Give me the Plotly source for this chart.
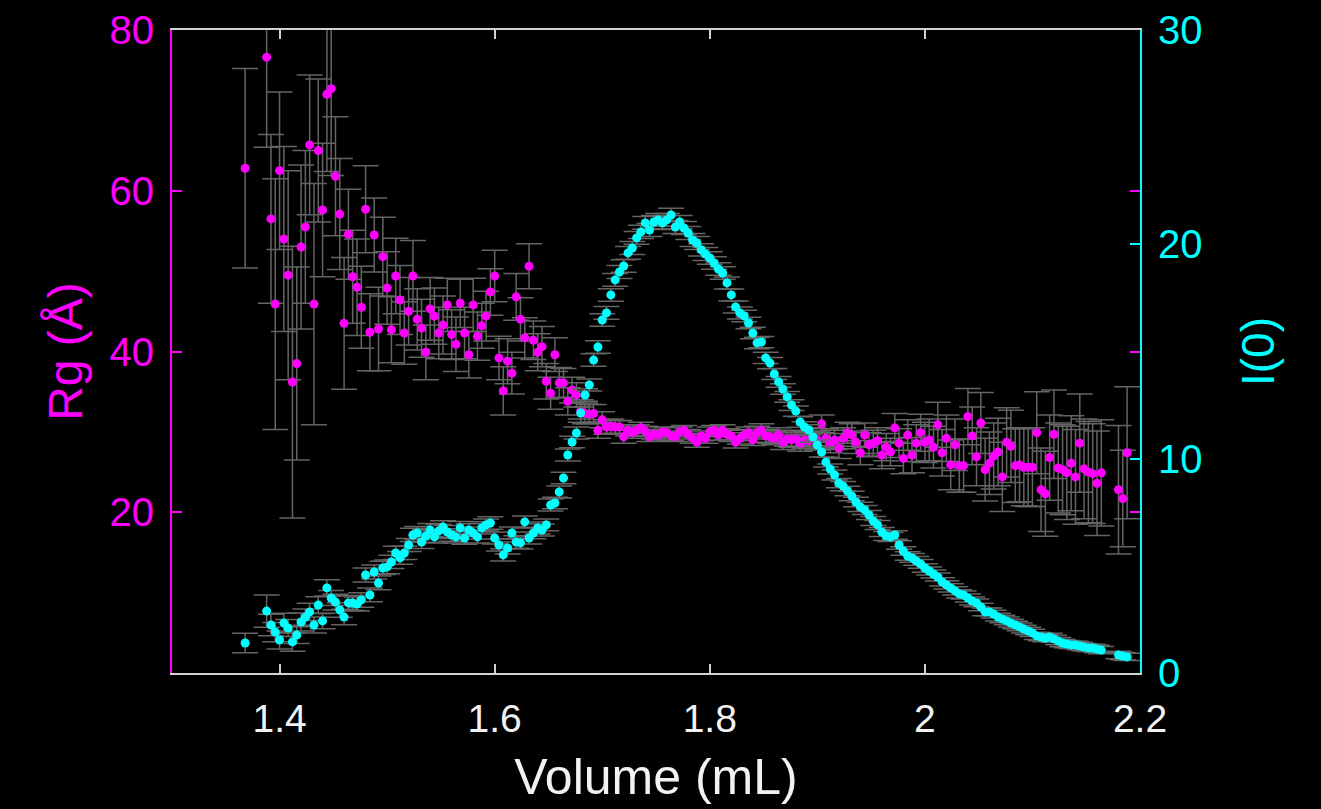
import plotly.graph_objects as go

# Elution volume of each frame (mL)
volume = [
    1.368,
    1.388, 1.392, 1.396, 1.400, 1.404, 1.408, 1.412, 1.416, 1.420, 1.424,
    1.428, 1.432, 1.436, 1.440, 1.444, 1.448, 1.452, 1.456, 1.460, 1.464,
    1.468, 1.472, 1.476, 1.480, 1.484, 1.488, 1.492, 1.496, 1.500, 1.504,
    1.508, 1.512, 1.516, 1.520, 1.524, 1.528, 1.532, 1.536, 1.540, 1.544,
    1.548, 1.552, 1.556, 1.560, 1.564, 1.568, 1.572, 1.576, 1.580, 1.584,
    1.588, 1.592, 1.596, 1.600, 1.604, 1.608, 1.612, 1.616, 1.620, 1.624,
    1.628, 1.632, 1.636, 1.640, 1.644, 1.648, 1.652, 1.656, 1.660, 1.664,
    1.668, 1.672, 1.676, 1.680, 1.684, 1.688, 1.692, 1.696, 1.700, 1.704,
    1.708, 1.712, 1.716, 1.720, 1.724, 1.728, 1.732, 1.736, 1.740, 1.744,
    1.748, 1.752, 1.756, 1.760, 1.764, 1.768, 1.772, 1.776, 1.780, 1.784,
    1.788, 1.792, 1.796, 1.800, 1.804, 1.808, 1.812, 1.816, 1.820, 1.824,
    1.828, 1.832, 1.836, 1.840, 1.844, 1.848, 1.852, 1.856, 1.860, 1.864,
    1.868, 1.872, 1.876, 1.880, 1.884, 1.888, 1.892, 1.896, 1.900, 1.904,
    1.908, 1.912, 1.916, 1.920, 1.924, 1.928, 1.932, 1.936, 1.940, 1.944,
    1.948, 1.952, 1.956, 1.960, 1.964, 1.968, 1.972, 1.976, 1.980, 1.984,
    1.988, 1.992, 1.996, 2.000, 2.004, 2.008, 2.012, 2.016, 2.020, 2.024,
    2.028, 2.032, 2.036, 2.040, 2.044, 2.048, 2.052, 2.056, 2.060, 2.064,
    2.068, 2.072, 2.076, 2.080, 2.084, 2.088, 2.092, 2.096, 2.100, 2.104,
    2.108, 2.112, 2.116, 2.120, 2.124, 2.128, 2.132, 2.136, 2.140, 2.144,
    2.148, 2.152, 2.156, 2.160, 2.164,
    2.180, 2.184, 2.188,
]

# Radius of gyration (Å) and its uncertainty
rg = [
    62.8,
    76.6, 56.5, 45.9, 62.5, 54.0, 49.5, 36.2, 38.5, 53.0, 55.5,
    65.7, 45.9, 65.0, 57.6, 72.0, 72.7, 61.8, 57.1, 43.5, 54.6,
    49.3, 48.0, 45.5, 57.7, 42.4, 54.5, 42.8, 51.8, 47.9, 42.7,
    49.4, 46.4, 42.3, 45.0, 49.4, 44.0, 42.9, 39.9, 45.3, 44.4,
    42.3, 43.3, 45.8, 42.1, 40.9, 46.0, 42.3, 39.6, 45.8, 41.9,
    43.2, 44.4, 47.4, 49.4, 39.2, 35.1, 38.8, 37.3, 46.8, 44.0,
    41.7, 50.6, 41.4, 39.9, 40.6, 36.3, 34.8, 39.6, 36.1, 36.1,
    33.8, 35.2, 34.6, 32.6, 32.3, 32.2, 32.3, 30.2, 31.5, 30.6,
    30.7, 30.6, 30.6, 29.4, 30.2, 29.9, 30.2, 30.5, 30.1, 29.4,
    29.7, 29.6, 30.0, 29.9, 29.5, 29.4, 30.0, 30.2, 29.7, 29.2,
    28.7, 29.5, 29.2, 30.0, 30.2, 29.6, 30.2, 29.7, 29.5, 28.7,
    29.2, 29.6, 29.9, 29.0, 29.9, 30.2, 29.5, 29.4, 29.2, 29.6,
    28.7, 29.1, 29.0, 29.2, 28.6, 29.0, 28.9, 29.4, 29.0, 31.0,
    29.2, 28.6, 29.0, 28.0, 29.2, 29.9, 29.6, 28.7, 27.4, 29.6,
    28.4, 28.6, 28.9, 27.1, 28.1, 27.5, 30.5, 28.6, 26.7, 29.6,
    27.1, 28.6, 29.9, 28.7, 29.0, 28.1, 30.9, 27.4, 29.2, 25.9,
    28.4, 25.8, 25.8, 31.9, 29.5, 26.9, 31.1, 25.3, 26.1, 27.0,
    27.5, 24.4, 28.7, 28.2, 25.8, 25.9, 25.6, 25.6, 25.6, 29.9,
    22.8, 22.3, 26.8, 29.7, 25.5, 25.3, 24.9, 26.1, 24.4, 28.6,
    25.4, 25.0, 24.8, 23.6, 24.9,
    22.8, 21.7, 27.4,
]

rg_err = [
    12.4,
    11.2, 10.5, 15.6, 9.8, 11.5, 13.0, 16.9, 12.0, 10.2, 9.5,
    8.7, 15.0, 8.9, 8.3, 9.6, 10.8, 7.4, 6.9, 8.2, 5.6,
    5.8, 6.0, 5.1, 5.4, 4.8, 4.6, 5.2, 4.9, 4.5, 4.1,
    4.7, 4.3, 3.9, 4.2, 4.4, 3.8, 3.6, 3.4, 3.9, 3.5,
    3.2, 3.6, 3.3, 3.1, 3.4, 3.0, 3.2, 2.9, 3.3, 3.0,
    2.8, 3.1, 2.9, 3.2, 2.7, 3.0, 2.8, 2.6, 2.9, 2.7,
    2.5, 2.8, 2.4, 2.3, 2.5, 2.2, 2.0, 2.1, 1.9, 1.8,
    1.7, 1.6, 1.5, 1.4, 1.3, 1.2, 1.1, 1.0, 1.0, 0.9,
    0.9, 0.8, 0.8, 0.8, 0.7, 0.7, 0.7, 0.7, 0.6, 0.6,
    0.6, 0.6, 0.6, 0.6, 0.6, 0.6, 0.6, 0.6, 0.6, 0.6,
    0.6, 0.6, 0.6, 0.6, 0.6, 0.6, 0.7, 0.7, 0.7, 0.7,
    0.7, 0.7, 0.7, 0.7, 0.8, 0.8, 0.8, 0.8, 0.8, 0.9,
    0.9, 0.9, 0.9, 1.0, 1.0, 1.0, 1.0, 1.1, 1.1, 1.1,
    1.2, 1.2, 1.2, 1.3, 1.3, 1.3, 1.4, 1.4, 1.5, 1.5,
    1.5, 1.6, 1.6, 1.7, 1.7, 1.7, 1.8, 1.8, 1.9, 1.9,
    2.2, 2.3, 2.3, 2.5, 2.6, 2.6, 2.8, 2.9, 2.9, 3.1,
    3.2, 3.3, 3.3, 3.5, 3.6, 3.6, 3.8, 3.9, 3.9, 4.1,
    4.2, 4.3, 4.3, 4.5, 4.6, 4.6, 4.8, 4.9, 4.9, 5.1,
    5.2, 5.3, 5.3, 5.5, 5.6, 5.6, 5.8, 5.9, 5.9, 6.1,
    6.2, 6.3, 6.2, 6.5, 6.6,
    8.0, 6.0, 8.2,
]

# Forward-scattering intensity I(0) and its uncertainty
i0 = [
    1.40,
    2.89, 2.24, 1.91, 1.54, 2.33, 2.10, 1.45, 1.77, 2.38, 2.61,
    2.85, 2.24, 3.17, 2.43, 3.97, 3.50, 3.31, 2.94, 2.61, 3.27,
    3.27, 3.22, 3.41, 4.57, 3.64, 4.71, 4.20, 4.90, 4.95, 5.18,
    5.60, 5.37, 5.60, 5.97, 6.44, 6.53, 6.11, 6.39, 6.67, 6.35,
    6.63, 6.81, 6.58, 6.44, 6.35, 6.77, 6.30, 6.67, 6.53, 6.35,
    6.77, 6.91, 7.00, 6.30, 5.97, 5.51, 5.83, 6.53, 6.11, 6.07,
    7.05, 6.30, 6.53, 6.77, 6.67, 6.91, 7.84, 7.93, 8.45, 9.10,
    10.17, 10.78, 11.20, 12.13, 12.97, 13.44, 14.60, 15.21, 16.47, 16.80,
    17.64, 18.34, 18.71, 18.99, 19.60, 19.83, 20.30, 20.58, 21.00, 20.67,
    21.04, 21.14, 21.00, 21.14, 21.37, 20.81, 21.04, 20.76, 20.53, 20.20,
    20.06, 19.74, 19.55, 19.36, 19.13, 18.85, 18.66, 18.20, 17.64, 17.08,
    16.80, 16.66, 16.33, 15.86, 15.40, 15.44, 14.70, 14.46, 13.95, 13.58,
    13.25, 12.88, 12.50, 12.22, 11.71, 11.48, 11.34, 11.01, 10.64, 10.31,
    9.84, 9.52, 9.24, 8.86, 8.72, 8.49, 8.26, 7.98, 7.75, 7.61,
    7.37, 7.09, 6.91, 6.58, 6.39, 6.35, 6.44, 5.97, 5.69, 5.46,
    5.37, 5.23, 5.09, 4.90, 4.76, 4.62, 4.48, 4.25, 4.11, 3.97,
    3.83, 3.69, 3.64, 3.50, 3.36, 3.27, 3.08, 2.85, 2.85, 2.75,
    2.61, 2.52, 2.43, 2.33, 2.24, 2.15, 2.05, 1.96, 1.87, 1.73,
    1.68, 1.63, 1.68, 1.59, 1.49, 1.40, 1.35, 1.31, 1.31, 1.26,
    1.21, 1.17, 1.17, 1.12, 1.07,
    0.84, 0.79, 0.75,
]

i0_err = [
    0.45,
    0.75, 0.50, 0.45, 0.42, 0.46, 0.40, 0.44, 0.39, 0.42, 0.38,
    0.40, 0.37, 0.39, 0.36, 0.38, 0.35, 0.37, 0.34, 0.36, 0.34,
    0.35, 0.33, 0.34, 0.33, 0.32, 0.33, 0.32, 0.31, 0.32, 0.31,
    0.31, 0.30, 0.31, 0.30, 0.31, 0.30, 0.30, 0.29, 0.30, 0.29,
    0.30, 0.29, 0.30, 0.29, 0.29, 0.30, 0.29, 0.29, 0.28, 0.29,
    0.29, 0.28, 0.29, 0.28, 0.28, 0.29, 0.28, 0.28, 0.29, 0.28,
    0.28, 0.28, 0.27, 0.28, 0.28, 0.27, 0.28, 0.27, 0.28, 0.27,
    0.28, 0.27, 0.28, 0.28, 0.29, 0.28, 0.29, 0.29, 0.29, 0.30,
    0.29, 0.30, 0.30, 0.29, 0.30, 0.30, 0.30, 0.31, 0.30, 0.30,
    0.31, 0.30, 0.31, 0.30, 0.31, 0.30, 0.31, 0.30, 0.30, 0.30,
    0.30, 0.29, 0.30, 0.29, 0.29, 0.29, 0.29, 0.28, 0.28, 0.28,
    0.28, 0.27, 0.27, 0.27, 0.27, 0.26, 0.26, 0.26, 0.26, 0.25,
    0.25, 0.25, 0.25, 0.24, 0.24, 0.24, 0.24, 0.24, 0.23, 0.23,
    0.23, 0.23, 0.23, 0.22, 0.22, 0.22, 0.22, 0.22, 0.22, 0.21,
    0.21, 0.21, 0.21, 0.21, 0.21, 0.21, 0.20, 0.20, 0.20, 0.20,
    0.20, 0.20, 0.20, 0.20, 0.19, 0.19, 0.19, 0.19, 0.19, 0.19,
    0.19, 0.19, 0.19, 0.19, 0.19, 0.18, 0.18, 0.18, 0.18, 0.18,
    0.18, 0.18, 0.18, 0.18, 0.18, 0.18, 0.18, 0.18, 0.17, 0.17,
    0.17, 0.17, 0.17, 0.17, 0.17, 0.17, 0.17, 0.17, 0.17, 0.17,
    0.17, 0.17, 0.17, 0.17, 0.17,
    0.17, 0.17, 0.17,
]

assert len(volume) == len(rg) == len(rg_err) == len(i0) == len(i0_err)

x_ticks = [1.4, 1.6, 1.8, 2.0, 2.2]
x_tick_text = ["1.4", "1.6", "1.8", "2", "2.2"]
rg_ticks = [20, 40, 60, 80]
i0_ticks = [0, 10, 20, 30]

MAGENTA = "#ff00ff"
CYAN = "#00ffff"
FRAME = "#d2d2d2"
ERRBAR = "#646464"
FONT = "Liberation Sans, Arial, Helvetica, sans-serif"

fig = go.Figure()

fig.add_trace(go.Scatter(
    x=volume, y=rg, mode="markers", yaxis="y",
    marker=dict(color=MAGENTA, size=9, line=dict(width=0)),
    error_y=dict(type="data", array=rg_err, color=ERRBAR, thickness=1.5, width=13),
    showlegend=False,
))

fig.add_trace(go.Scatter(
    x=volume, y=i0, mode="markers", yaxis="y2",
    marker=dict(color=CYAN, size=9, line=dict(width=0)),
    error_y=dict(type="data", array=i0_err, color=ERRBAR, thickness=1.5, width=13),
    showlegend=False,
))

fig.update_layout(
    width=1321, height=809,
    margin=dict(l=172, r=181, t=30, b=136, autoexpand=False),
    paper_bgcolor="black", plot_bgcolor="black",
    font=dict(family=FONT),
    xaxis=dict(
        range=[1.3, 2.2], tickvals=x_ticks, ticktext=x_tick_text,
        ticks="inside", ticklen=9, tickwidth=2, tickcolor=FRAME,
        showline=True, linecolor=FRAME, linewidth=2, mirror="ticks",
        showgrid=False, zeroline=False,
        tickfont=dict(size=39, color="#f2f2f2"), ticklabelstandoff=10,
        title=dict(text="Volume (mL)", font=dict(size=50, color="#f2f2f2"), standoff=20),
        automargin=False,
    ),
    yaxis=dict(
        range=[0, 80], tickvals=rg_ticks,
        ticks="inside", ticklen=10, tickwidth=2, tickcolor=MAGENTA,
        showline=True, linecolor=MAGENTA, linewidth=2, mirror="ticks",
        showgrid=False, zeroline=False,
        tickfont=dict(size=40, color=MAGENTA), ticklabelstandoff=8,
        title=dict(text="Rg (Å)", font=dict(size=48, color=MAGENTA), standoff=12),
        automargin=False,
    ),
    yaxis2=dict(
        range=[0, 30], tickvals=i0_ticks, overlaying="y", side="right",
        ticks="inside", ticklen=10, tickwidth=2, tickcolor=CYAN,
        showline=True, linecolor=CYAN, linewidth=2,
        showgrid=False, zeroline=False,
        tickfont=dict(size=40, color=CYAN), ticklabelstandoff=8,
        title=dict(text="I(0)", font=dict(size=46, color=CYAN), standoff=40),
        automargin=False,
    ),
)

fig.write_html("out.html")
